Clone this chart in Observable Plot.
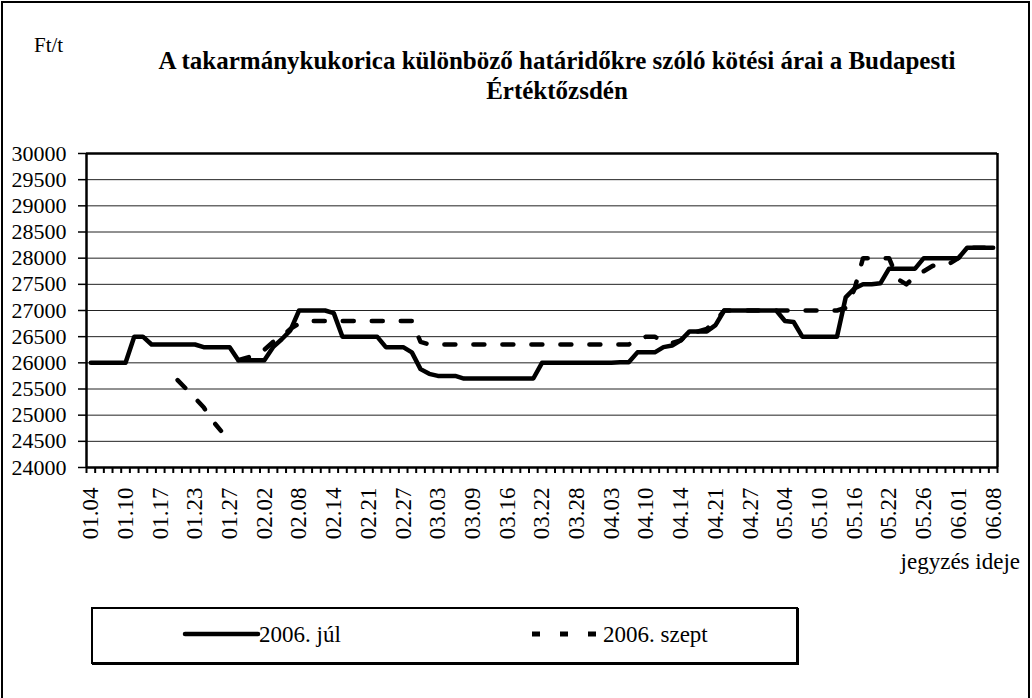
<!DOCTYPE html>
<html>
<head>
<meta charset="utf-8">
<script src="https://cdn.jsdelivr.net/npm/d3@7"></script>
<script src="https://cdn.jsdelivr.net/npm/@observablehq/plot@0.6"></script>
<style>
html,body{margin:0;padding:0;background:#fff;}
#wrap{position:relative;width:1032px;height:698px;overflow:hidden;font-family:"Liberation Serif","Times New Roman",serif;color:#000;background:#fff;}
#outer{position:absolute;left:1px;top:1px;width:1029px;height:760px;border:2px solid #000;box-sizing:border-box;}
#chart{position:absolute;left:0;top:0;}
#chart svg, #chart svg text{font-family:"Liberation Serif","Times New Roman",serif !important;}
#unit{position:absolute;left:34px;top:33px;font-size:21px;}
#title{position:absolute;left:100px;width:914px;top:46px;text-align:center;font-weight:bold;font-size:25px;line-height:30px;}
#xlabel{position:absolute;right:12px;top:549px;font-size:23px;}
#legend{position:absolute;left:91px;top:607px;width:707px;height:57px;border:2px solid #000;box-sizing:border-box;box-shadow:1px 1px 0 #000;}
#legend svg{position:absolute;left:0;top:0;}
.lt{position:absolute;top:13px;font-size:23px;line-height:26px;white-space:nowrap;}
</style>
</head>
<body>
<div id="wrap">
  <div id="outer"></div>
  <div id="chart"></div>
  <div id="unit">Ft/t</div>
  <div id="title">A takarmánykukorica különböző határidőkre szóló kötési árai a Budapesti<br>Értéktőzsdén</div>
  <div id="xlabel">jegyzés ideje</div>
  <div id="legend"></div>
</div>
<script>
// Quotation dates (trading days), tick labels every 4th
const dates = [
  "01.04","01.05","01.06","01.09","01.10","01.11","01.12","01.16","01.17","01.18",
  "01.19","01.20","01.23","01.24","01.25","01.26","01.27","01.30","01.31","02.01",
  "02.02","02.03","02.06","02.07","02.08","02.09","02.10","02.13","02.14","02.15",
  "02.16","02.20","02.21","02.22","02.23","02.24","02.27","02.28","03.01","03.02",
  "03.03","03.06","03.07","03.08","03.09","03.10","03.13","03.14","03.16","03.17",
  "03.20","03.21","03.22","03.23","03.24","03.27","03.28","03.29","03.30","03.31",
  "04.03","04.04","04.05","04.06","04.10","04.11","04.12","04.13","04.14","04.18",
  "04.19","04.20","04.21","04.24","04.25","04.26","04.27","04.28","05.02","05.03",
  "05.04","05.05","05.08","05.09","05.10","05.11","05.12","05.15","05.16","05.17",
  "05.18","05.19","05.22","05.23","05.24","05.25","05.26","05.29","05.30","05.31",
  "06.01","06.02","06.06","06.07","06.08"
];
// 2006. júl contract prices (Ft/t)
const jul = [
  26000,26000,26000,26000,26000,26500,26500,26350,26350,26350,
  26350,26350,26350,26300,26300,26300,26300,26050,26050,26050,
  26050,26300,26450,26620,27000,27000,27000,27000,26950,26500,
  26500,26500,26500,26500,26300,26300,26300,26200,25880,25790,
  25750,25750,25750,25700,25700,25700,25700,25700,25700,25700,
  25700,25700,26000,26000,26000,26000,26000,26000,26000,26000,
  26000,26010,26010,26200,26200,26200,26300,26330,26430,26600,
  26600,26600,26720,27000,27000,27000,27000,27000,27000,27000,
  26800,26780,26500,26500,26500,26500,26500,27250,27420,27500,
  27500,27520,27800,27800,27800,27800,28000,28000,28000,28000,
  28000,28200,28200,28200,28200
];
// 2006. szept contract prices (Ft/t), null = no quotation
const szept = [
  null,null,null,null,null,null,null,null,null,null,
  25670,25500,25330,25150,24900,24700,null,26050,26100,26150,
  26250,26400,26500,26650,26750,26800,26800,26800,26800,26800,
  26800,26800,26800,26800,26800,26800,26800,26800,26400,26350,
  26350,26350,26350,26350,26350,26350,26350,26350,26350,26350,
  26350,26350,26350,26350,26350,26350,26350,26350,26350,26350,
  26350,26350,26350,26450,26500,26500,26400,26380,26430,26600,
  26600,26650,26800,27000,27000,27000,27000,27000,27000,27000,
  27000,27000,27000,27000,27000,27000,27000,27050,27400,28000,
  28000,28000,28000,27600,27500,27650,27750,27850,27900,27900,
  28000,28200,28200,28200,28200
];
const yTicks = [24000,24500,25000,25500,26000,26500,27000,27500,28000,28500,29000,29500,30000];
const seriesNames = ["2006. júl","2006. szept"];

const n = dates.length;
const rows = dates.map((d, i) => ({i, date: d, jul: jul[i], szept: szept[i]}));
const boundaries = d3.range(-0.5, n, 1);
const labelIdx = d3.range(0, n, 4);
const serif = "Liberation Serif, Times New Roman, serif";

const chart = Plot.plot({
  width: 1032,
  height: 560,
  marginLeft: 86,
  marginRight: 35,
  marginTop: 153,
  marginBottom: 93,
  x: {domain: [-0.5, n - 0.5]},
  y: {domain: [24000, 30000]},
  style: {fontFamily: serif, fontSize: "22px", color: "#000", background: "transparent", overflow: "visible"},
  marks: [
    Plot.ruleY(yTicks, {stroke: "#222", strokeWidth: 1}),
    Plot.axisY({ticks: yTicks, tickSize: 8, tickPadding: 12, tickFormat: d3.format("d"), label: null, fontSize: 22, fontFamily: serif, strokeWidth: 1.5}),
    Plot.axisX({ticks: boundaries, tickSize: 6, tickFormat: () => "", label: null, strokeWidth: 2}),
    Plot.axisX({ticks: labelIdx, tickSize: 0, tickPadding: 20, tickRotate: -90, tickFormat: i => dates[i], label: null, fontSize: 23, fontFamily: serif}),
    Plot.ruleX([-0.5, n - 0.5], {stroke: "#000", strokeWidth: 2.5}),
    Plot.ruleY([24000, 30000], {stroke: "#000", strokeWidth: 2.5}),
    Plot.line(rows, {x: "i", y: "szept", stroke: "#000", strokeWidth: 4.5, strokeDasharray: "11,18", strokeLinejoin: "round"}),
    Plot.line(rows, {x: "i", y: "jul", stroke: "#000", strokeWidth: 4.5, strokeLinejoin: "round"})
  ]
});
document.getElementById("chart").appendChild(chart);

// legend
const lg = document.getElementById("legend");
lg.innerHTML =
  '<svg width="707" height="57"><line x1="92" x2="165" y1="25" y2="25" stroke="#000" stroke-width="4.5" stroke-linecap="round"/>' +
  '<line x1="439" x2="506" y1="25" y2="25" stroke="#000" stroke-width="5" stroke-dasharray="8,20"/></svg>' +
  '<div class="lt" style="left:166px">' + seriesNames[0] + '</div>' +
  '<div class="lt" style="left:510px">' + seriesNames[1] + '</div>';
</script>
</body>
</html>
